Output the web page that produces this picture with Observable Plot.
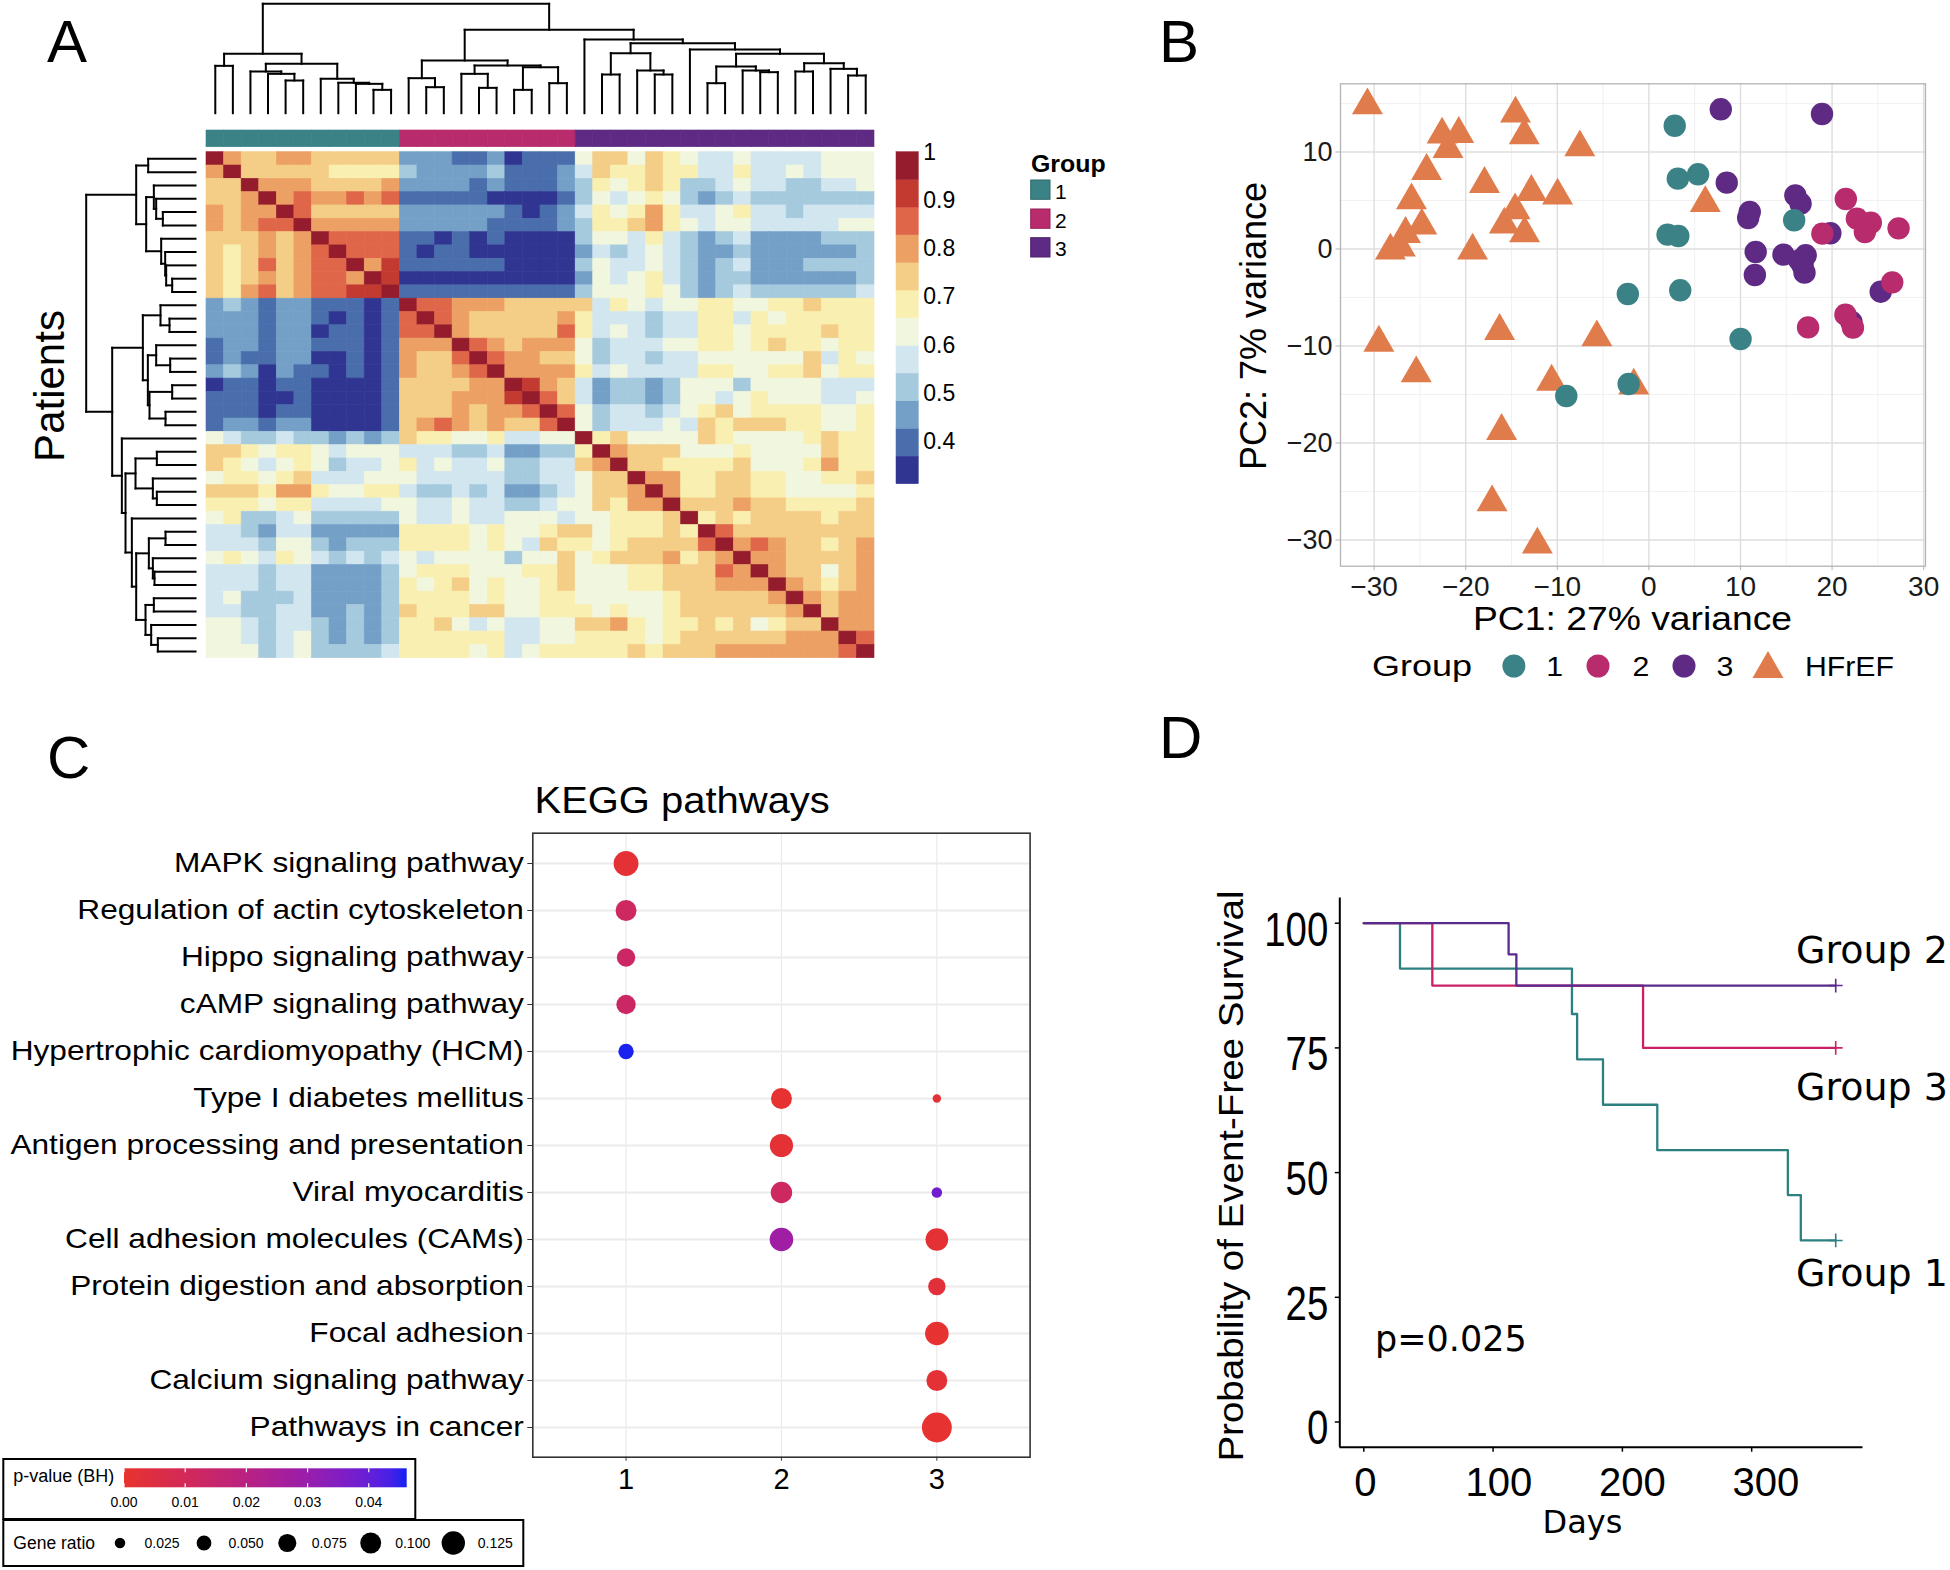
<!DOCTYPE html>
<html><head><meta charset="utf-8">
<script src="https://cdn.jsdelivr.net/npm/d3@7"></script>
<script src="https://cdn.jsdelivr.net/npm/@observablehq/plot@0.6"></script>
<style>
html,body{margin:0;padding:0;background:#fff;overflow:hidden}
#root{position:relative;width:1950px;height:1570px;background:#fff}
#root svg{position:absolute;left:0;top:0}
</style></head><body><div id="root"></div>
<script>
// ===================== DATA =====================
// Panel A: patients (heatmap order), groups, correlation levels (upper triangle, bin codes 0-b)
const patientGroups = [1,1,1,1,1,1,1,1,1,1,1, 2,2,2,2,2,2,2,2,2,2, 3,3,3,3,3,3,3,3,3,3,3,3,3,3,3,3,3];
const corrBreaks = [0.3125,0.3698,0.4271,0.4844,0.5417,0.5990,0.6563,0.7135,0.7708,0.8281,0.8854,0.9427,1.0];
const corrColors = ["#313592","#4A6DAC","#74A0C8","#A5CADE","#D2E6EF","#F1F6DE","#F9EFB1","#F4CD86","#ECA064","#E0664A","#C33A30","#951C2C"];
const corrLegendTicks = [0.4,0.5,0.6,0.7,0.8,0.9,1];
const corrUpper = [
"b8778877777222112011157757654454444555",
"b777776666322223111247667664464454555",
"b88877778222212111236567633454433445",
"b8988989111110000135456532343333333",
"b977777222222101246568644564434444",
"b88888222221111236678654554444455",
"b9999110101000035546432342222333",
"b999101100000024345432232222223",
"b8a111111000035445432342223333",
"ba000000000025456432332222223",
"b111111111135556532343333334",
"b99888777774654556655667666",
"b9877777864443446646566666",
"b877777964543446656666766",
"b98788853444556656766566",
"b9887753443445555557465",
"b888864544446655667566",
"ba8742332355535555444",
"b9742332355456555445",
"b953443456756666556",
"b53444547677766556",
"b6755557655556766",
"b877755565555766",
"b77666675556866",
"b8866776655667",
"b866776655556",
"b77787766667",
"b6767777677",
"b977777777",
"b89877678",
"b8877778",
"b877578",
"b87678",
"b8788",
"b788",
"b88",
"b9",
"b"];
// dendrogram merges: [childA, childB, height]  (L = leaf index, M = earlier merge)
const dendroMerges = [
["L0","L1",142],["L4","L5",98],["L3","M1",118],["L2","M2",125],["L9","L10",70],
["L8","M4",88],["L7","M5",91],["L6","M6",103],["M3","M7",148],["M0","M8",178],
["L12","L13",78],["L11","M10",105],["L15","L16",76],["L14","M12",118],["L17","L18",70],
["L19","L20",90],["M14","M15",138],["M13","M16",143],["M11","M17",158],
["L22","L23",116],["L25","L26",116],["L24","M20",128],["M19","M21",180],
["L28","L29",90],["L31","L32",123],["L30","M24",128],["M23","M25",140],
["L33","L34",125],["L36","L37",113],["L35","M28",133],["M27","M29",150],
["M26","M30",178],["L27","M31",191],["M22","M32",210],["L21","M33",221],
["M18","M34",250],["M9","M35",328]];
const groupNames = ["1","2","3"];
const groupColors = ["#3A8285","#B82B6D","#5E2A84"];

// Panel B: PCA
const pcaGroups = ["1","2","3","HFrEF"];
const pcaColors = ["#3A8285","#B82B6D","#5E2A84","#E07C4C"];
const hfrefX = [-30.73,-14.56,-22.58,-20.76,-13.61,-21.93,-7.54,-24.27,-17.95,-12.83,-9.97,6.16,-25.92,-14.61,-15.78,-13.57,-24.79,-26.57,-27.13,-28.22,-19.25,-29.48,-16.30,-5.68,-25.40,-10.62,-1.65,-16.08,-17.12,-12.18];
const hfrefY = [14.81,13.95,11.79,11.86,11.72,10.31,10.48,8.04,6.70,5.88,5.50,4.74,5.02,3.99,2.51,1.62,2.41,1.55,0.14,-0.17,-0.17,-9.66,-8.45,-9.11,-12.82,-13.68,-14.09,-18.76,-26.12,-30.48];
const g1X = [2.82,3.16,5.37,15.86,2.04,3.21,-2.30,3.42,10.01,-2.21,-9.02];
const g1Y = [12.71,7.25,7.70,2.96,1.48,1.34,-4.64,-4.26,-9.28,-13.92,-15.15];
const g2X = [21.50,22.71,24.23,23.58,18.94,27.26,26.57,21.46,22.28,17.38];
const g2Y = [5.15,3.13,2.71,1.75,1.58,2.13,-3.44,-6.77,-8.11,-8.08];
const g3X = [7.85,18.90,8.50,15.99,16.56,11.01,10.84,19.81,11.66,14.69,17.12,16.78,16.99,11.57,25.31,22.11,16.43];
const g3Y = [14.40,13.92,6.84,5.53,4.67,3.81,3.20,1.62,-0.31,-0.58,-0.65,-1.68,-2.44,-2.68,-4.40,-7.53,-1.17];
const pcaTicksX = [-30,-20,-10,0,10,20,30];
const pcaTicksY = [-30,-20,-10,0,10];
const pcaMinorX = [-25,-15,-5,5,15,25];
const pcaMinorY = [-25,-15,-5,5,15];

// Panel C: KEGG
const keggPathways = ["MAPK signaling pathway","Regulation of actin cytoskeleton","Hippo signaling pathway","cAMP signaling pathway","Hypertrophic cardiomyopathy (HCM)","Type I diabetes mellitus","Antigen processing and presentation","Viral myocarditis","Cell adhesion molecules (CAMs)","Protein digestion and absorption","Focal adhesion","Calcium signaling pathway","Pathways in cancer"];
const keggTerm    = [0,1,2,3,4,5,5,6,7,7,8,8,9,10,11,12];
const keggCluster = [1,1,1,1,1,2,3,2,2,3,2,3,3,3,3,3];
const keggRatio   = [0.141,0.100,0.077,0.086,0.054,0.100,0.016,0.123,0.105,0.025,0.127,0.117,0.069,0.127,0.100,0.204];
const keggP       = [0.002,0.012,0.013,0.013,0.046,0.001,0.002,0.002,0.012,0.038,0.028,0.002,0.003,0.001,0.002,0.001];
const keggClusterTicks = [1,2,3];
const pLegendTicks = [0,0.01,0.02,0.03,0.04];
const ratioLegend = [0.025,0.05,0.075,0.1,0.125];

// Panel D: Kaplan-Meier
const kmDays1 = [0,28,161,165,185,227,328,338,365];
const kmSurv1 = [100,90.9,81.8,72.7,63.6,54.5,45.5,36.4,36.4];
const kmDays2 = [0,53,216,365];
const kmSurv2 = [100,87.5,75,75];
const kmDays3 = [0,112,118,365];
const kmSurv3 = [100,93.75,87.5,87.5];
const kmColors = ["#2C8080","#C92068","#5A2B8C"];
const kmTicksX = [0,100,200,300];
const kmTicksY = [0,25,50,75,100];
const kmLabels = ["Group 2","Group 3","Group 1"];

// ===================== HELPERS =====================
const W = 1950, H = 1570;
const SANS = "'Liberation Sans', Arial, Helvetica, sans-serif";
const DEJA = "'DejaVu Sans', Verdana, sans-serif";
const root = document.getElementById("root");
function pagePlot(frame, opts) {
  const [x0, y0, x1, y1] = frame;
  const svg = Plot.plot(Object.assign({
    width: W, height: H,
    marginLeft: x0, marginTop: y0, marginRight: W - x1, marginBottom: H - y1,
    style: {background: "transparent", overflow: "visible", maxWidth: "none", fontFamily: SANS, color: "#000"}
  }, opts));
  root.appendChild(svg);
  return svg;
}
function adjustText(svg, label, sx = 1, dy = 0) {
  svg.querySelectorAll(`[aria-label="${label}"] text`).forEach(t => {
    const xa = t.getAttribute("x");
    const px = xa && !/em$/.test(xa) ? parseFloat(xa) || 0 : 0;
    const tr = t.getAttribute("transform") || "";
    t.setAttribute("transform", `translate(0,${dy}) ${tr} translate(${px},0) scale(${sx},1) translate(${-px},0)`);
  });
}
function dendroSegments(merges) {
  const pos = [], hgt = [], segs = [];
  const get = id => id[0] === "L" ? {p: +id.slice(1), h: 0} : {p: pos[+id.slice(1)], h: hgt[+id.slice(1)]};
  merges.forEach(([a, b, h], i) => {
    const A = get(a), B = get(b);
    pos[i] = (A.p + B.p) / 2; hgt[i] = h;
    segs.push({p1: A.p, h1: A.h, p2: A.p, h2: h});
    segs.push({p1: B.p, h1: B.h, p2: B.p, h2: h});
    segs.push({p1: A.p, h1: h, p2: B.p, h2: h});
  });
  return segs;
}

// ===================== PANEL A =====================
const N = patientGroups.length;
const idx = d3.range(N);
const cells = [];
for (let i = 0; i < N; i++) {
  for (let j = i; j < N; j++) {
    const code = (corrUpper[i] || "")[j - i] || "5";
    const lev = parseInt(code, 16);
    const v = (corrBreaks[lev] + corrBreaks[lev + 1]) / 2;
    cells.push({row: i, col: j, v});
    if (i !== j) cells.push({row: j, col: i, v});
  }
}
const corrColor = {type: "threshold", domain: corrBreaks.slice(1, -1), range: corrColors};
const HX0 = 206, HX1 = 874, HY0 = 151.7, HY1 = 657.7;
pagePlot([HX0, HY0, HX1, HY1], {
  x: {type: "band", domain: idx, padding: 0, round: false, axis: null},
  y: {type: "band", domain: idx, padding: 0, round: false, axis: null},
  color: corrColor,
  marks: [Plot.cell(cells, {x: "col", y: "row", fill: "v", stroke: "v", strokeWidth: 0.6})]
});
const segs = dendroSegments(dendroMerges);
// top dendrogram
pagePlot([HX0, 3.3, HX1, 112.7], {
  x: {domain: [-0.5, N - 0.5], axis: null},
  y: {domain: [0, 328], axis: null},
  marks: [Plot.link(segs, {x1: "p1", y1: "h1", x2: "p2", y2: "h2", stroke: "#000", strokeWidth: 2, strokeLinecap: "square"})]
});
// left dendrogram
pagePlot([85.7, HY0, 195, HY1], {
  x: {domain: [328, 0], axis: null},
  y: {domain: [N - 0.5, -0.5], axis: null},
  marks: [Plot.link(segs, {x1: "h1", y1: "p1", x2: "h2", y2: "p2", stroke: "#000", strokeWidth: 2, strokeLinecap: "square"})]
});
// group annotation bar
pagePlot([HX0, 130, HX1, 146.7], {
  x: {type: "band", domain: idx, padding: 0, round: false, axis: null},
  y: {axis: null},
  color: {type: "ordinal", domain: [1, 2, 3], range: groupColors},
  marks: [Plot.cell(idx, {x: d => d, fill: d => patientGroups[d], stroke: d => patientGroups[d], strokeWidth: 0.6})]
});
// correlation colour legend
const bins = d3.range(12).map(k => ({lo: corrBreaks[k], hi: corrBreaks[k + 1], mid: (corrBreaks[k] + corrBreaks[k + 1]) / 2}));
pagePlot([896, 151.7, 918.3, 483.7], {
  x: {domain: [0, 1], axis: null},
  y: {domain: [corrBreaks[0], corrBreaks[12]]},
  color: corrColor,
  marks: [
    Plot.rect(bins, {x1: 0, x2: 1, y1: "lo", y2: "hi", fill: "mid", stroke: "mid", strokeWidth: 0.5}),
    Plot.axisY(corrLegendTicks, {anchor: "right", tickSize: 0, tickPadding: 4.5, fontSize: 23, label: null, tickFormat: d => String(d)})
  ]
});

// ===================== PANEL B =====================
const mk = (xs, ys) => xs.map((x, i) => ({x, y: ys[i]}));
const fmtMinus = d => d < 0 ? "\u2212" + Math.abs(d) : String(d);
pagePlot([1340, 83.3, 1925, 565.7], {
  x: {domain: [-33.67, 30.2]},
  y: {domain: [-32.7, 17.03]},
  marks: [
    Plot.gridX(pcaMinorX, {stroke: "#EDEDED", strokeOpacity: 1, strokeWidth: 0.8}),
    Plot.gridY(pcaMinorY, {stroke: "#EDEDED", strokeOpacity: 1, strokeWidth: 0.8}),
    Plot.gridX(pcaTicksX, {stroke: "#DEDEDE", strokeOpacity: 1, strokeWidth: 1.4}),
    Plot.gridY(pcaTicksY, {stroke: "#DEDEDE", strokeOpacity: 1, strokeWidth: 1.4}),
    Plot.axisX(pcaTicksX, {tickSize: 4.5, tickPadding: 5, fontSize: 28, label: null, stroke: "#B3B3B3", fill: "#1a1a1a", tickFormat: fmtMinus}),
    Plot.axisY(pcaTicksY, {tickSize: 4.5, tickPadding: 3.5, fontSize: 27, label: null, stroke: "#B3B3B3", fill: "#1a1a1a", tickFormat: fmtMinus}),
    Plot.dot(mk(hfrefX, hfrefY), {x: "x", y: "y", symbol: "triangle", r: 11.5, fill: pcaColors[3]}),
    Plot.dot(mk(g3X, g3Y), {x: "x", y: "y", r: 11.2, fill: pcaColors[2]}),
    Plot.dot(mk(g1X, g1Y), {x: "x", y: "y", r: 11.2, fill: pcaColors[0]}),
    Plot.dot(mk(g2X, g2Y), {x: "x", y: "y", r: 11.2, fill: pcaColors[1]}),
    Plot.frame({stroke: "#B3B3B3", strokeWidth: 1.3})
  ]
});

// ===================== PANEL C =====================
const kegg = keggTerm.map((t, i) => ({pathway: keggPathways[t], cluster: keggCluster[i], ratio: keggRatio[i], p: keggP[i]}));
const pColor = {type: "linear", domain: [0, 0.0462], range: ["#E8332B", "#1322F2"], interpolate: d3.interpolateLab};
const rOpts = {type: "sqrt", domain: [0, 0.125], range: [0, 11.7]};
const svgC = pagePlot([532.3, 832.7, 1029.6, 1456.7], {
  x: {domain: [0.4, 3.6]},
  y: {type: "point", domain: keggPathways, padding: 0.6},
  r: rOpts,
  color: pColor,
  marks: [
    Plot.gridY(keggPathways, {stroke: "#EBEBEB", strokeOpacity: 1, strokeWidth: 2.2}),
    Plot.gridX(keggClusterTicks, {stroke: "#EBEBEB", strokeOpacity: 1, strokeWidth: 1.3}),
    Plot.axisY({tickSize: 5, tickPadding: 4, fontSize: 28, label: null, stroke: "#333"}),
    Plot.axisX(keggClusterTicks, {tickSize: 4, tickPadding: 7.5, fontSize: 29, label: null, stroke: "#333", tickFormat: d => String(d)}),
    Plot.dot(kegg, {x: "cluster", y: "pathway", r: "ratio", fill: "p"}),
    Plot.frame({stroke: "#333", strokeWidth: 1.6})
  ]
});
adjustText(svgC, "y-axis tick label", 1.13, 0);

// ===================== PANEL D =====================
const km = (ds, ss) => ds.map((t, i) => ({t, s: ss[i]}));
const km1 = km(kmDays1, kmSurv1), km2 = km(kmDays2, kmSurv2), km3 = km(kmDays3, kmSurv3);
const ends = [km1, km2, km3].map((a, i) => ({t: a[a.length - 1].t, s: a[a.length - 1].s, c: kmColors[i]}));
const DF = [1339.3, 897.4, 1862.5, 1446.7];
const svgD = pagePlot(DF, {
  x: {domain: [-18.56, 386.1]},
  y: {domain: [-5.05, 105.07]},
  marks: [
    Plot.ruleX([-18.56], {stroke: "#000", strokeWidth: 2}),
    Plot.ruleY([-5.05], {stroke: "#000", strokeWidth: 2}),
    Plot.axisX(kmTicksX, {tickSize: 5, tickPadding: 15, fontSize: 40, label: null, strokeWidth: 1.5, tickFormat: () => ""}),
    Plot.axisY(kmTicksY, {tickSize: 4.5, tickPadding: 7, fontSize: 48, label: null, strokeWidth: 1.5}),
    Plot.line(km1, {x: "t", y: "s", stroke: kmColors[0], strokeWidth: 2.3, curve: "step-after"}),
    Plot.line(km2, {x: "t", y: "s", stroke: kmColors[1], strokeWidth: 2.3, curve: "step-after"}),
    Plot.line(km3, {x: "t", y: "s", stroke: kmColors[2], strokeWidth: 2.3, curve: "step-after"}),
    Plot.dot(ends, {x: "t", y: "s", symbol: "plus", r: 4.5, stroke: "c", strokeWidth: 1.6})
  ]
});
adjustText(svgD, "y-axis tick label", 0.8, 7);
// x tick labels of the survival plot sit on a slightly wider spacing than the tick marks in the source
pagePlot(DF, {
  x: {domain: [-19.26, 372.85]},
  y: {domain: [0, 1], axis: null},
  marks: [Plot.axisX(kmTicksX, {tickSize: 0, tickPadding: 20, fontSize: 40, label: null})]
});

// ===================== TEXT / LEGENDS OVERLAY =====================
const ov = d3.select(root).append("svg").attr("width", W).attr("height", H);
function T(x, y, s, o = {}) {
  let tr = `translate(${x},${y})`;
  if (o.rot) tr += ` rotate(${o.rot})`;
  if (o.sx) tr += ` scale(${o.sx},1)`;
  const t = ov.append("text").attr("transform", tr)
    .attr("font-family", o.family || SANS).attr("font-size", o.size || 20)
    .attr("text-anchor", o.anchor || "start").attr("fill", o.fill || "#000").text(s);
  if (o.weight) t.attr("font-weight", o.weight);
  return t;
}
// panel letters
T(47, 62, "A", {size: 60}); T(1159, 62, "B", {size: 60});
T(47, 778, "C", {size: 60}); T(1159, 758, "D", {size: 60});
// Panel A labels & group legend
T(64, 386, "Patients", {size: 42, rot: -90, anchor: "middle"});
T(1031, 171.5, "Group", {size: 23.5, weight: "bold", sx: 1.06});
groupNames.forEach((g, i) => {
  const y = [180, 209, 237.7][i];
  ov.append("rect").attr("x", 1030.7).attr("y", y).attr("width", 19.3).attr("height", 19.3)
    .attr("fill", groupColors[i]).attr("stroke", d3.color(groupColors[i]).darker(0.6)).attr("stroke-width", 1);
  T(1055, y + 18.5, g, {size: 21});
});
// Panel B titles & legend
T(1632.5, 630, "PC1: 27% variance", {size: 33, anchor: "middle", sx: 1.13});
T(1266, 326, "PC2: 7% variance", {size: 36, rot: -90, anchor: "middle"});
T(1372, 676, "Group", {size: 30, sx: 1.2});
const legX = [1513.9, 1598, 1684, 1768];
const legLab = [1554.6, 1641, 1725, 1805];
pcaGroups.forEach((g, i) => {
  if (i < 3) ov.append("circle").attr("cx", legX[i]).attr("cy", 666).attr("r", 11.5).attr("fill", pcaColors[i]);
  else ov.append("path").attr("transform", `translate(${legX[i]},669)`).attr("d", d3.symbol(d3.symbolTriangle, Math.PI * 11.5 * 11.5)()).attr("fill", pcaColors[i]);
  T(legLab[i], 676, g, {size: 28, anchor: i < 3 ? "middle" : "start", sx: 1.08});
});
// Panel C title & legends
T(534.5, 813.3, "KEGG pathways", {size: 37, sx: 1.08});
const pScale = Plot.scale({color: pColor});
const rScale = Plot.scale({r: rOpts});
const defs = ov.append("defs");
const grad = defs.append("linearGradient").attr("id", "pgrad").attr("x1", "0%").attr("x2", "100%");
d3.range(0, 1.0001, 0.05).forEach(t => grad.append("stop").attr("offset", (t * 100) + "%").attr("stop-color", pScale.apply(t * 0.0462)));
ov.append("rect").attr("x", 3.3).attr("y", 1459).attr("width", 412).attr("height", 60).attr("fill", "#fff").attr("stroke", "#000").attr("stroke-width", 2);
ov.append("rect").attr("x", 3.3).attr("y", 1520).attr("width", 520).attr("height", 46).attr("fill", "#fff").attr("stroke", "#000").attr("stroke-width", 2);
T(13.3, 1482, "p-value (BH)", {size: 18});
const barX0 = 124, barX1 = 406.7, barY0 = 1468.3, barY1 = 1487.3;
ov.append("rect").attr("x", barX0).attr("y", barY0).attr("width", barX1 - barX0).attr("height", barY1 - barY0).attr("fill", "url(#pgrad)");
pLegendTicks.forEach(v => {
  const x = barX0 + v / 0.0462 * (barX1 - barX0);
  ov.append("line").attr("x1", x).attr("x2", x).attr("y1", barY0).attr("y2", barY0 + 4).attr("stroke", "#fff").attr("stroke-width", 1.2);
  ov.append("line").attr("x1", x).attr("x2", x).attr("y1", barY1 - 4).attr("y2", barY1).attr("stroke", "#fff").attr("stroke-width", 1.2);
  T(x, 1507, d3.format(".2f")(v), {size: 14, anchor: "middle"});
});
T(13.3, 1549, "Gene ratio", {size: 17.5});
const rDotX = [120, 204, 287.3, 370.7, 453.3];
ratioLegend.forEach((v, i) => {
  ov.append("circle").attr("cx", rDotX[i]).attr("cy", 1543).attr("r", rScale.apply(v)).attr("fill", "#000");
  T(rDotX[i] + 42, 1548, d3.format(".3f")(v), {size: 14, anchor: "middle"});
});
// Panel D text
T(1243, 1176, "Probability of Event-Free Survival", {size: 35, rot: -90, anchor: "middle", sx: 1.1});
T(1582.5, 1533, "Days", {size: 32, family: DEJA, anchor: "middle"});
T(1375, 1350.7, "p=0.025", {size: 35, family: DEJA});
T(1796, 962.8, kmLabels[0], {size: 38, family: DEJA});
T(1796, 1100.1, kmLabels[1], {size: 38, family: DEJA});
T(1796, 1286.3, kmLabels[2], {size: 38, family: DEJA});
</script></body></html>
